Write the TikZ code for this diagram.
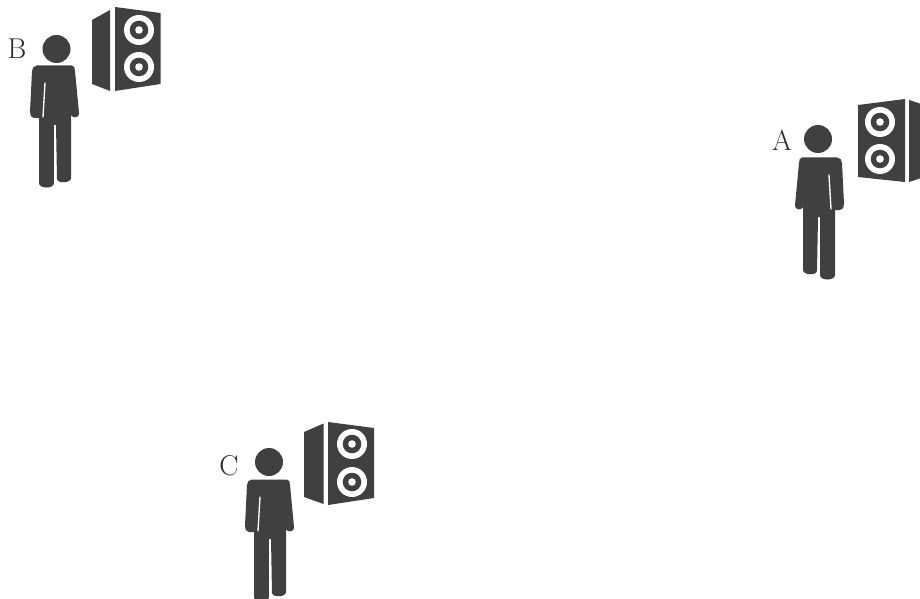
\documentclass[tikz,border=0pt]{standalone}
\definecolor{ink}{HTML}{404040}
\definecolor{labelink}{HTML}{2A2A2A}
\tikzset{
  solid part/.style={fill=ink,draw=none},
  gap line/.style={draw=white,line width=1pt,line cap=round},
  person label/.style={text=labelink,inner sep=0pt,font=\fontsize{21.5}{22}\selectfont},
  body figure/.pic={
    \fill[ink] (-16,0.5) -- (19,0.5) .. controls (21,0.5) and (22,3) .. (22,6)
      -- (26,48) .. controls (26.5,52) and (22,53) .. (20,52) -- (18,50)
      -- (18,113) .. controls (18,118) and (5,119) .. (4,114)
      -- (3,60) -- (1,60) -- (1,118) .. controls (1,124) and (-14,124) .. (-14,118)
      -- (-14,53) -- (-19,53) .. controls (-22,53) and (-23,50) .. (-23,47)
      -- (-21,6) .. controls (-21,3) and (-19,0.5) .. (-16,0.5) -- cycle;
    \draw[gap line] (-8,18) -- (-10,52);
    \draw[white,line width=0.7pt] (1.8,60) -- (1.8,118);
  },
}
\begin{document}
\begin{tikzpicture}[x=0.75pt,y=-0.75pt]
\useasboundingbox (0,0) rectangle (920,599);
\clip (0,0) rectangle (920,599);
\fill[white] (0,0) rectangle (920,599);

% B
\node[person label] (labelB) at (17,49) {B};
\fill[ink] (56.5,49) circle (14);
\pic at (53,65) {body figure};
\path[solid part] (92,20) -- (110,10) -- (110,91) -- (92,84) -- cycle;
\path[solid part] (115,7) -- (160.5,13) -- (160.5,84) -- (115,91) -- cycle;
\foreach \cy in {30,67}{
  \fill[white] (139,\cy) circle (15);
  \fill[ink] (139,\cy) circle (9.3);
  \fill[white] (139,\cy) circle (3.8);
}

% A
\node[person label] (labelA) at (782,140) {A};
\fill[ink] (818,139) circle (14);
\pic[xscale=-1] at (821,157) {body figure};
\path[solid part] (858,105) -- (905,99) -- (905,182) -- (858,177) -- cycle;
\path[solid part] (909,100) -- (921,104) -- (921,178) -- (909,182) -- cycle;
\foreach \cy in {122,159}{
  \fill[white] (880,\cy) circle (15);
  \fill[ink] (880,\cy) circle (9.3);
  \fill[white] (880,\cy) circle (3.8);
}

% C
\node[person label] (labelC) at (229,466) {C};
\fill[ink] (269,462) circle (14);
\pic at (268,479) {body figure};
\path[solid part] (304,432) -- (323.5,423.5) -- (323.5,504) -- (304,497) -- cycle;
\path[solid part] (328,422) -- (374,428) -- (374,498) -- (328,505) -- cycle;
\foreach \cy in {444,482}{
  \fill[white] (352,\cy) circle (15);
  \fill[ink] (352,\cy) circle (9.3);
  \fill[white] (352,\cy) circle (3.8);
}
\end{tikzpicture}
\end{document}
